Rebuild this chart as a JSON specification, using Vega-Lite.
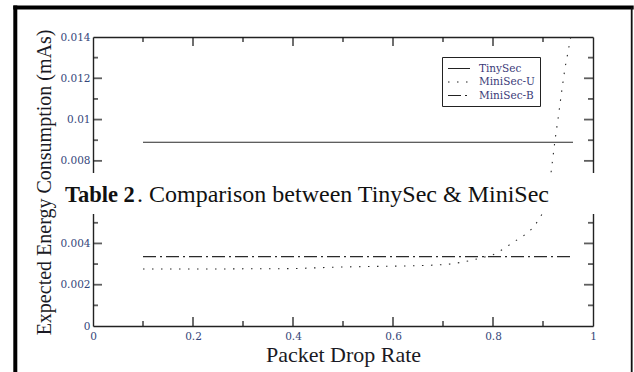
{
  "$schema": "https://vega.github.io/schema/vega-lite/v6.json",
  "width": 500,
  "height": 289,
  "autosize": {"type": "none"},
  "padding": {"left": 93, "top": 37, "right": 41, "bottom": 46},
  "background": "white",
  "config": {
    "view": {"stroke": null},
    "axis": {
      "grid": false,
      "domainColor": "#222222",
      "domainWidth": 1.4,
      "labelFont": "DejaVu Serif",
      "labelFontSize": 10.5,
      "labelColor": "#34467a",
      "labelOverlap": false,
      "labelFlush": false,
      "titleFont": "Liberation Serif",
      "titleFontWeight": "normal",
      "titleColor": "#1a1a24"
    }
  },
  "data": {
    "values": [
      {"rate": 0.1, "energy": 0.0089, "series": "TinySec"},
      {"rate": 0.96, "energy": 0.0089, "series": "TinySec"},
      {"rate": 0.1, "energy": 0.00336, "series": "MiniSec-B"},
      {"rate": 0.96, "energy": 0.00336, "series": "MiniSec-B"},
      {"rate": 0.1, "energy": 0.00276, "series": "MiniSec-U"},
      {"rate": 0.15, "energy": 0.00276, "series": "MiniSec-U"},
      {"rate": 0.2, "energy": 0.00276, "series": "MiniSec-U"},
      {"rate": 0.25, "energy": 0.00276, "series": "MiniSec-U"},
      {"rate": 0.3, "energy": 0.00277, "series": "MiniSec-U"},
      {"rate": 0.35, "energy": 0.00277, "series": "MiniSec-U"},
      {"rate": 0.4, "energy": 0.00278, "series": "MiniSec-U"},
      {"rate": 0.45, "energy": 0.00282, "series": "MiniSec-U"},
      {"rate": 0.5, "energy": 0.00286, "series": "MiniSec-U"},
      {"rate": 0.55, "energy": 0.00288, "series": "MiniSec-U"},
      {"rate": 0.6, "energy": 0.0029, "series": "MiniSec-U"},
      {"rate": 0.65, "energy": 0.00292, "series": "MiniSec-U"},
      {"rate": 0.7, "energy": 0.00297, "series": "MiniSec-U"},
      {"rate": 0.72, "energy": 0.00302, "series": "MiniSec-U"},
      {"rate": 0.74, "energy": 0.0031, "series": "MiniSec-U"},
      {"rate": 0.76, "energy": 0.0032, "series": "MiniSec-U"},
      {"rate": 0.78, "energy": 0.00332, "series": "MiniSec-U"},
      {"rate": 0.8, "energy": 0.00345, "series": "MiniSec-U"},
      {"rate": 0.82, "energy": 0.00372, "series": "MiniSec-U"},
      {"rate": 0.84, "energy": 0.00405, "series": "MiniSec-U"},
      {"rate": 0.86, "energy": 0.00435, "series": "MiniSec-U"},
      {"rate": 0.88, "energy": 0.00475, "series": "MiniSec-U"},
      {"rate": 0.89, "energy": 0.0051, "series": "MiniSec-U"},
      {"rate": 0.9, "energy": 0.0055, "series": "MiniSec-U"},
      {"rate": 0.91, "energy": 0.0063, "series": "MiniSec-U"},
      {"rate": 0.917, "energy": 0.0076, "series": "MiniSec-U"},
      {"rate": 0.924, "energy": 0.009, "series": "MiniSec-U"},
      {"rate": 0.931, "energy": 0.0102, "series": "MiniSec-U"},
      {"rate": 0.937, "energy": 0.0113, "series": "MiniSec-U"},
      {"rate": 0.944, "energy": 0.0125, "series": "MiniSec-U"},
      {"rate": 0.951, "energy": 0.0134, "series": "MiniSec-U"},
      {"rate": 0.957, "energy": 0.0142, "series": "MiniSec-U"}
    ]
  },
  "layer": [
    {
      "mark": {"type": "line", "strokeWidth": 1.1, "color": "#2a2a2a"},
      "encoding": {
        "x": {
          "field": "rate",
          "type": "quantitative",
          "scale": {"domain": [0, 1], "nice": false, "zero": false},
          "axis": {
            "orient": "bottom",
            "values": [0, 0.2, 0.4, 0.6, 0.8, 1],
            "format": "~g",
            "ticks": false,
            "labelPadding": 5,
            "title": "Packet Drop Rate",
            "titleFontSize": 22,
            "titleBaseline": "alphabetic",
            "titleAlign": "center",
            "titleX": 250,
            "titleY": 35
          }
        },
        "y": {
          "field": "energy",
          "type": "quantitative",
          "scale": {"domain": [0, 0.014], "nice": false, "zero": false},
          "axis": {
            "orient": "left",
            "values": [0, 0.002, 0.004, 0.008, 0.01, 0.012, 0.014],
            "format": "~g",
            "ticks": false,
            "labelPadding": 3,
            "title": "Expected Energy Consumption (mAs)",
            "titleFontSize": 20,
            "titleAngle": -90,
            "titleBaseline": "alphabetic",
            "titleAlign": "center",
            "titleX": -43,
            "titleY": 145
          }
        },
        "strokeDash": {
          "field": "series",
          "type": "nominal",
          "scale": {
            "domain": ["TinySec", "MiniSec-U", "MiniSec-B"],
            "range": [[1, 0], [1.5, 7.5], [13, 4, 2, 4]]
          },
          "legend": {
            "title": null,
            "orient": "none",
            "legendX": 349,
            "legendY": 20,
            "fillColor": "white",
            "strokeColor": "#222222",
            "padding": 5,
            "symbolType": "M-1,0L3,0",
            "symbolSize": 121,
            "symbolStrokeColor": "#222222",
            "symbolStrokeWidth": 1.2,
            "labelFont": "DejaVu Serif",
            "labelFontSize": 10.5,
            "labelColor": "#3a3a78",
            "labelOffset": 19,
            "rowPadding": 1.5
          }
        }
      }
    },
    {
      "mark": {"type": "line", "strokeOpacity": 0},
      "encoding": {
        "x": {"field": "rate", "type": "quantitative", "axis": {"orient": "top", "ticks": false, "labels": false, "domain": true, "title": null}},
        "y": {"field": "energy", "type": "quantitative", "axis": {"orient": "right", "ticks": false, "labels": false, "domain": true, "title": null}}
      }
    },
    {
      "data": {"values": [{"v": 0.2}, {"v": 0.4}, {"v": 0.6}, {"v": 0.8}]},
      "mark": {"type": "tick", "orient": "vertical", "color": "#1a1a1a", "thickness": 1.8, "size": 9, "yOffset": -4.5},
      "encoding": {"x": {"field": "v", "type": "quantitative", "axis": null}, "y": {"datum": 0, "type": "quantitative", "axis": null}}
    },
    {
      "data": {"values": [{"v": 0.1}, {"v": 0.3}, {"v": 0.5}, {"v": 0.7}, {"v": 0.9}]},
      "mark": {"type": "tick", "orient": "vertical", "color": "#1a1a1a", "thickness": 1.8, "size": 5, "yOffset": -2.5},
      "encoding": {"x": {"field": "v", "type": "quantitative", "axis": null}, "y": {"datum": 0, "type": "quantitative", "axis": null}}
    },
    {
      "data": {"values": [{"v": 0.2}, {"v": 0.4}, {"v": 0.6}, {"v": 0.8}]},
      "mark": {"type": "tick", "orient": "vertical", "color": "#1a1a1a", "thickness": 1.8, "size": 9, "yOffset": 4.5},
      "encoding": {"x": {"field": "v", "type": "quantitative", "axis": null}, "y": {"datum": 0.014, "type": "quantitative", "axis": null}}
    },
    {
      "data": {"values": [{"v": 0.1}, {"v": 0.3}, {"v": 0.5}, {"v": 0.7}, {"v": 0.9}]},
      "mark": {"type": "tick", "orient": "vertical", "color": "#1a1a1a", "thickness": 1.8, "size": 5, "yOffset": 2.5},
      "encoding": {"x": {"field": "v", "type": "quantitative", "axis": null}, "y": {"datum": 0.014, "type": "quantitative", "axis": null}}
    },
    {
      "data": {"values": [{"v": 0.002}, {"v": 0.004}, {"v": 0.006}, {"v": 0.008}, {"v": 0.01}, {"v": 0.012}]},
      "mark": {"type": "tick", "orient": "horizontal", "color": "#1a1a1a", "thickness": 1.8, "size": 9, "xOffset": 4.5},
      "encoding": {"y": {"field": "v", "type": "quantitative", "axis": null}, "x": {"datum": 0, "type": "quantitative", "axis": null}}
    },
    {
      "data": {"values": [{"v": 0.001}, {"v": 0.003}, {"v": 0.005}, {"v": 0.007}, {"v": 0.009}, {"v": 0.011}, {"v": 0.013}]},
      "mark": {"type": "tick", "orient": "horizontal", "color": "#1a1a1a", "thickness": 1.8, "size": 5, "xOffset": 2.5},
      "encoding": {"y": {"field": "v", "type": "quantitative", "axis": null}, "x": {"datum": 0, "type": "quantitative", "axis": null}}
    },
    {
      "data": {"values": [{"v": 0.002}, {"v": 0.004}, {"v": 0.006}, {"v": 0.008}, {"v": 0.01}, {"v": 0.012}]},
      "mark": {"type": "tick", "orient": "horizontal", "color": "#1a1a1a", "thickness": 1.8, "size": 9, "xOffset": -4.5},
      "encoding": {"y": {"field": "v", "type": "quantitative", "axis": null}, "x": {"datum": 1, "type": "quantitative", "axis": null}}
    },
    {
      "data": {"values": [{"v": 0.001}, {"v": 0.003}, {"v": 0.005}, {"v": 0.007}, {"v": 0.009}, {"v": 0.011}, {"v": 0.013}]},
      "mark": {"type": "tick", "orient": "horizontal", "color": "#1a1a1a", "thickness": 1.8, "size": 5, "xOffset": -2.5},
      "encoding": {"y": {"field": "v", "type": "quantitative", "axis": null}, "x": {"datum": 1, "type": "quantitative", "axis": null}}
    },
    {
      "data": {"values": [{}]},
      "mark": {"type": "rect", "color": "white"},
      "encoding": {
        "x": {"datum": -0.072, "type": "quantitative", "axis": null},
        "x2": {"datum": 1.06},
        "y": {"datum": 0.00741, "type": "quantitative", "axis": null},
        "y2": {"datum": 0.00543}
      }
    },
    {
      "data": {"values": [{}]},
      "mark": {"type": "text", "text": "Table 2", "font": "Liberation Serif", "fontWeight": "bold", "fontSize": 22.5, "align": "left", "baseline": "alphabetic", "color": "#111111"},
      "encoding": {
        "x": {"datum": -0.056, "type": "quantitative", "axis": null},
        "y": {"datum": 0.00601, "type": "quantitative", "axis": null}
      }
    },
    {
      "data": {"values": [{}]},
      "mark": {"type": "text", "text": ". Comparison between TinySec & MiniSec", "font": "Liberation Serif", "fontSize": 24, "align": "left", "baseline": "alphabetic", "color": "#111111"},
      "encoding": {
        "x": {"datum": 0.088, "type": "quantitative", "axis": null},
        "y": {"datum": 0.00601, "type": "quantitative", "axis": null}
      }
    },
    {
      "data": {"values": [{}]},
      "mark": {"type": "rule", "color": "#000000", "strokeWidth": 4, "strokeCap": "square"},
      "encoding": {
        "x": {"datum": -0.1554, "type": "quantitative", "axis": null},
        "x2": {"datum": 1.0774},
        "y": {"datum": 0.01543, "type": "quantitative", "axis": null}
      }
    },
    {
      "data": {"values": [{}]},
      "mark": {"type": "rule", "color": "#000000", "strokeWidth": 4, "strokeCap": "square"},
      "encoding": {
        "x": {"datum": -0.1554, "type": "quantitative", "axis": null},
        "y": {"datum": 0.01543, "type": "quantitative", "axis": null},
        "y2": {"datum": -0.003}
      }
    },
    {
      "data": {"values": [{}]},
      "mark": {"type": "rule", "color": "#111111", "strokeWidth": 1.8},
      "encoding": {
        "x": {"datum": 1.0774, "type": "quantitative", "axis": null},
        "y": {"datum": 0.01543, "type": "quantitative", "axis": null},
        "y2": {"datum": -0.003}
      }
    }
  ],
  "resolve": {"axis": {"x": "independent", "y": "independent"}}
}
